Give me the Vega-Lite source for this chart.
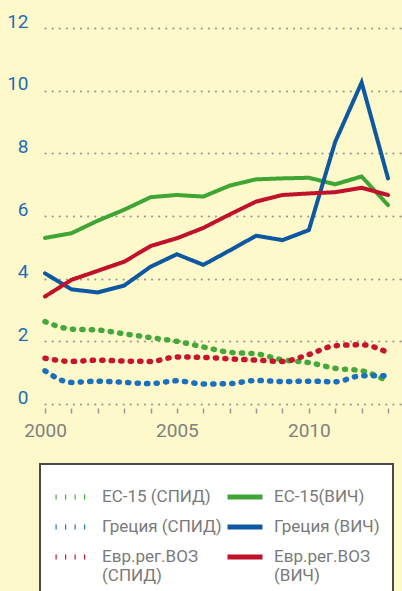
{
  "$schema": "https://vega.github.io/schema/vega-lite/v6.json",
  "width": 357,
  "height": 376,
  "autosize": {"type": "none"},
  "padding": {"left": 45, "top": 28, "right": 0, "bottom": 187},
  "background": "#FEF9CB",
  "config": {
    "view": {"stroke": null},
    "font": "Roboto",
    "line": {"strokeCap": "round"},
    "legend": {"strokeWidth": 2},
    "axis": {"labelFont": "Roboto", "labelFontSize": 19, "titleFontSize": 0}
  },
  "data": {
    "values": [
      {"year": 2000, "series": "ЕС-15(ВИЧ)", "value": 5.3},
      {"year": 2001, "series": "ЕС-15(ВИЧ)", "value": 5.45},
      {"year": 2002, "series": "ЕС-15(ВИЧ)", "value": 5.85},
      {"year": 2003, "series": "ЕС-15(ВИЧ)", "value": 6.2},
      {"year": 2004, "series": "ЕС-15(ВИЧ)", "value": 6.6},
      {"year": 2005, "series": "ЕС-15(ВИЧ)", "value": 6.67},
      {"year": 2006, "series": "ЕС-15(ВИЧ)", "value": 6.62},
      {"year": 2007, "series": "ЕС-15(ВИЧ)", "value": 6.97},
      {"year": 2008, "series": "ЕС-15(ВИЧ)", "value": 7.17},
      {"year": 2009, "series": "ЕС-15(ВИЧ)", "value": 7.2},
      {"year": 2010, "series": "ЕС-15(ВИЧ)", "value": 7.22},
      {"year": 2011, "series": "ЕС-15(ВИЧ)", "value": 7.01},
      {"year": 2012, "series": "ЕС-15(ВИЧ)", "value": 7.26},
      {"year": 2013, "series": "ЕС-15(ВИЧ)", "value": 6.35},
      {"year": 2000, "series": "Греция (ВИЧ)", "value": 4.17},
      {"year": 2001, "series": "Греция (ВИЧ)", "value": 3.66},
      {"year": 2002, "series": "Греция (ВИЧ)", "value": 3.56},
      {"year": 2003, "series": "Греция (ВИЧ)", "value": 3.78},
      {"year": 2004, "series": "Греция (ВИЧ)", "value": 4.38},
      {"year": 2005, "series": "Греция (ВИЧ)", "value": 4.78},
      {"year": 2006, "series": "Греция (ВИЧ)", "value": 4.44},
      {"year": 2007, "series": "Греция (ВИЧ)", "value": 4.9},
      {"year": 2008, "series": "Греция (ВИЧ)", "value": 5.37},
      {"year": 2009, "series": "Греция (ВИЧ)", "value": 5.23},
      {"year": 2010, "series": "Греция (ВИЧ)", "value": 5.55},
      {"year": 2011, "series": "Греция (ВИЧ)", "value": 8.37},
      {"year": 2012, "series": "Греция (ВИЧ)", "value": 10.26},
      {"year": 2013, "series": "Греция (ВИЧ)", "value": 7.2},
      {"year": 2000, "series": "Евр.рег.ВОЗ (ВИЧ)", "value": 3.43},
      {"year": 2001, "series": "Евр.рег.ВОЗ (ВИЧ)", "value": 3.96},
      {"year": 2002, "series": "Евр.рег.ВОЗ (ВИЧ)", "value": 4.25},
      {"year": 2003, "series": "Евр.рег.ВОЗ (ВИЧ)", "value": 4.54},
      {"year": 2004, "series": "Евр.рег.ВОЗ (ВИЧ)", "value": 5.04},
      {"year": 2005, "series": "Евр.рег.ВОЗ (ВИЧ)", "value": 5.29},
      {"year": 2006, "series": "Евр.рег.ВОЗ (ВИЧ)", "value": 5.62},
      {"year": 2007, "series": "Евр.рег.ВОЗ (ВИЧ)", "value": 6.05},
      {"year": 2008, "series": "Евр.рег.ВОЗ (ВИЧ)", "value": 6.46},
      {"year": 2009, "series": "Евр.рег.ВОЗ (ВИЧ)", "value": 6.67},
      {"year": 2010, "series": "Евр.рег.ВОЗ (ВИЧ)", "value": 6.72},
      {"year": 2011, "series": "Евр.рег.ВОЗ (ВИЧ)", "value": 6.76},
      {"year": 2012, "series": "Евр.рег.ВОЗ (ВИЧ)", "value": 6.9},
      {"year": 2013, "series": "Евр.рег.ВОЗ (ВИЧ)", "value": 6.67},
      {"year": 2000, "series": "ЕС-15 (СПИД)", "value": 2.63},
      {"year": 2001, "series": "ЕС-15 (СПИД)", "value": 2.39},
      {"year": 2002, "series": "ЕС-15 (СПИД)", "value": 2.36},
      {"year": 2003, "series": "ЕС-15 (СПИД)", "value": 2.24},
      {"year": 2004, "series": "ЕС-15 (СПИД)", "value": 2.12},
      {"year": 2005, "series": "ЕС-15 (СПИД)", "value": 2.0},
      {"year": 2006, "series": "ЕС-15 (СПИД)", "value": 1.82},
      {"year": 2007, "series": "ЕС-15 (СПИД)", "value": 1.65},
      {"year": 2008, "series": "ЕС-15 (СПИД)", "value": 1.6},
      {"year": 2009, "series": "ЕС-15 (СПИД)", "value": 1.41},
      {"year": 2010, "series": "ЕС-15 (СПИД)", "value": 1.32},
      {"year": 2011, "series": "ЕС-15 (СПИД)", "value": 1.14},
      {"year": 2012, "series": "ЕС-15 (СПИД)", "value": 1.06},
      {"year": 2013, "series": "ЕС-15 (СПИД)", "value": 0.72},
      {"year": 2000, "series": "Греция (СПИД)", "value": 1.06},
      {"year": 2001, "series": "Греция (СПИД)", "value": 0.69},
      {"year": 2002, "series": "Греция (СПИД)", "value": 0.73},
      {"year": 2003, "series": "Греция (СПИД)", "value": 0.69},
      {"year": 2004, "series": "Греция (СПИД)", "value": 0.65},
      {"year": 2005, "series": "Греция (СПИД)", "value": 0.74},
      {"year": 2006, "series": "Греция (СПИД)", "value": 0.64},
      {"year": 2007, "series": "Греция (СПИД)", "value": 0.65},
      {"year": 2008, "series": "Греция (СПИД)", "value": 0.75},
      {"year": 2009, "series": "Греция (СПИД)", "value": 0.72},
      {"year": 2010, "series": "Греция (СПИД)", "value": 0.73},
      {"year": 2011, "series": "Греция (СПИД)", "value": 0.71},
      {"year": 2012, "series": "Греция (СПИД)", "value": 0.9},
      {"year": 2013, "series": "Греция (СПИД)", "value": 0.9},
      {"year": 2000, "series": "Евр.рег.ВОЗ (СПИД)", "value": 1.46},
      {"year": 2001, "series": "Евр.рег.ВОЗ (СПИД)", "value": 1.36},
      {"year": 2002, "series": "Евр.рег.ВОЗ (СПИД)", "value": 1.4},
      {"year": 2003, "series": "Евр.рег.ВОЗ (СПИД)", "value": 1.37},
      {"year": 2004, "series": "Евр.рег.ВОЗ (СПИД)", "value": 1.36},
      {"year": 2005, "series": "Евр.рег.ВОЗ (СПИД)", "value": 1.5},
      {"year": 2006, "series": "Евр.рег.ВОЗ (СПИД)", "value": 1.49},
      {"year": 2007, "series": "Евр.рег.ВОЗ (СПИД)", "value": 1.44},
      {"year": 2008, "series": "Евр.рег.ВОЗ (СПИД)", "value": 1.4},
      {"year": 2009, "series": "Евр.рег.ВОЗ (СПИД)", "value": 1.36},
      {"year": 2010, "series": "Евр.рег.ВОЗ (СПИД)", "value": 1.58},
      {"year": 2011, "series": "Евр.рег.ВОЗ (СПИД)", "value": 1.86},
      {"year": 2012, "series": "Евр.рег.ВОЗ (СПИД)", "value": 1.89},
      {"year": 2013, "series": "Евр.рег.ВОЗ (СПИД)", "value": 1.64}
    ]
  },
  "encoding": {
    "x": {
      "field": "year", "type": "quantitative",
      "scale": {"domain": [2000, 2013.53], "nice": false, "zero": false},
      "axis": {
        "title": null, "grid": false, "domain": false, "labelFlush": false,
        "values": [2000, 2001, 2002, 2003, 2004, 2005, 2006, 2007, 2008, 2009, 2010, 2011, 2012, 2013],
        "format": "d",
        "labelExpr": "datum.value == 2000 || datum.value == 2005 || datum.value == 2010 ? datum.label : ''",
        "offset": 4, "tickSize": 5, "tickColor": "#9a9a9a", "tickWidth": 1.5,
        "labelColor": "#808080", "labelPadding": 8, "labelFontSize": 19
      }
    },
    "y": {
      "field": "value", "type": "quantitative",
      "scale": {"domain": [0, 12], "nice": false},
      "axis": {
        "title": null, "domain": false, "ticks": false,
        "values": [0, 2, 4, 6, 8, 10, 12],
        "grid": true, "gridColor": "#9a9a9a", "gridWidth": 2.2, "gridDash": [0.1, 7], "gridCap": "round",
        "labelColor": "#1f6db5", "labelPadding": 17, "labelOffset": -7, "labelFontSize": 19
      }
    },
    "color": {
      "field": "series", "type": "nominal",
      "scale": {
        "domain": ["ЕС-15 (СПИД)", "Греция (СПИД)", "Евр.рег.ВОЗ (СПИД)", "ЕС-15(ВИЧ)", "Греция (ВИЧ)", "Евр.рег.ВОЗ (ВИЧ)"],
        "range": ["#45a83a", "#1b6fbd", "#c8142c", "#3fa535", "#0d58a0", "#c0132b"]
      },
      "legend": {
        "title": null, "orient": "none", "legendX": -5, "legendY": 436,
        "columns": 2, "columnPadding": -5, "rowPadding": -4,
        "padding": 13, "fillColor": "#ffffff", "strokeColor": "#4a4a4a", "cornerRadius": 0,
        "symbolType": "stroke", "symbolSize": 1225, "symbolStrokeWidth": 5, "symbolOffset": 0,
        "labelFont": "Roboto", "labelFontSize": 17, "labelColor": "#7a7a7a", "labelOffset": 9,
        "labelLimit": 300, "labelLineHeight": 22,
        "labelExpr": "datum.label == 'Евр.рег.ВОЗ (СПИД)' ? ['Евр.рег.ВОЗ', '(СПИД)'] : datum.label == 'Евр.рег.ВОЗ (ВИЧ)' ? ['Евр.рег.ВОЗ', '(ВИЧ)'] : datum.label",
        "encoding": {"symbols": {"update": {"strokeCap": {"value": "round"}}}}
      }
    },
    "strokeDash": {
      "field": "series", "type": "nominal",
      "scale": {
        "domain": ["ЕС-15 (СПИД)", "Греция (СПИД)", "Евр.рег.ВОЗ (СПИД)", "ЕС-15(ВИЧ)", "Греция (ВИЧ)", "Евр.рег.ВОЗ (ВИЧ)"],
        "range": [[1.2, 8.3], [1.2, 8.3], [1.2, 8.3], [1, 0], [1, 0], [1, 0]]
      }
    }
  },
  "layer": [
    {
      "transform": [{"filter": {"field": "series", "oneOf": ["ЕС-15 (СПИД)", "Греция (СПИД)", "Евр.рег.ВОЗ (СПИД)"]}}],
      "mark": {"type": "line", "strokeWidth": 5.5, "strokeCap": "round", "interpolate": "monotone"}
    },
    {
      "transform": [{"filter": {"field": "series", "oneOf": ["ЕС-15(ВИЧ)", "Греция (ВИЧ)", "Евр.рег.ВОЗ (ВИЧ)"]}}],
      "mark": {"type": "line", "strokeWidth": 4, "strokeCap": "round", "strokeJoin": "miter"}
    }
  ]
}
